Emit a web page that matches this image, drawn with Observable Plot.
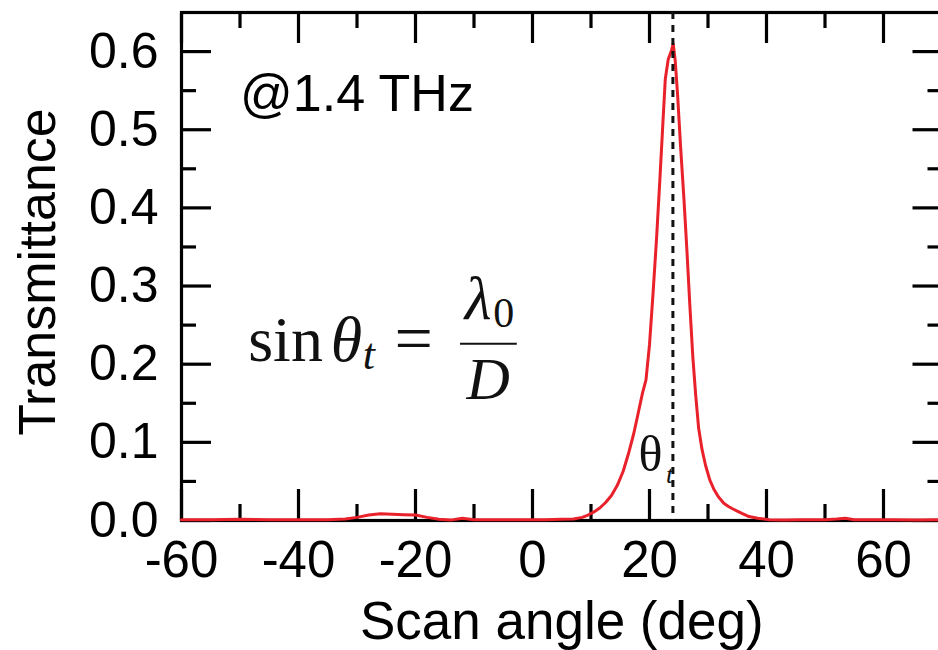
<!DOCTYPE html>
<html><head><meta charset="utf-8">
<script src="https://cdn.jsdelivr.net/npm/d3@7"></script>
<script src="https://cdn.jsdelivr.net/npm/@observablehq/plot@0.6"></script>
<style>html,body{margin:0;padding:0;background:#fff;overflow:hidden}</style>
</head><body><div id="chart"></div>
<script>
// ---- data ----
const angle = [-60,-55,-50,-45,-40,-35,-32,-30,-28,-26,-24,-22,-20,-18,-16,-14,-12,-10,-6,-2,2,5,7,8.5,9.5,10.5,11.5,12.5,13.5,14.5,15.5,16.5,17.3,18,18.8,19.4,20,20.6,21.2,21.8,22.3,22.7,23.2,23.7,24.05,24.4,24.8,25.3,25.9,26.4,26.9,27.4,27.9,28.4,29,29.6,30.3,31,31.8,32.7,33.5,34.2,35,35.8,37,38.5,40.5,43,46,50,52,53.5,55,58,62,66,70];
const transmittance = [0.001,0.001,0.0015,0.001,0.001,0.001,0.002,0.004,0.007,0.0085,0.008,0.0075,0.007,0.004,0.0015,0.0005,0.003,0.001,0.001,0.001,0.001,0.0015,0.002,0.004,0.007,0.011,0.016,0.023,0.032,0.045,0.063,0.088,0.111,0.135,0.163,0.18,0.225,0.29,0.36,0.44,0.51,0.565,0.59,0.6,0.61,0.588,0.545,0.48,0.41,0.345,0.275,0.21,0.16,0.118,0.09,0.07,0.052,0.04,0.03,0.022,0.018,0.015,0.012,0.009,0.005,0.003,0.001,0.0005,0.001,0.001,0.002,0.003,0.001,0.001,0.001,0.0005,0.001];
const xMajorTicks = [-60,-40,-20,0,20,40,60];
const xMinorTicks = [-50,-30,-10,10,30,50];
const yMajorTicks = [0,0.1,0.2,0.3,0.4,0.5,0.6];
const yMinorTicks = [0.05,0.15,0.25,0.35,0.45,0.55];
const thetaT = 24;
const xLabel = "Scan angle (deg)";
const yLabel = "Transmittance";
const freqLabel = "@1.4 THz";
// annotation anchors in data units (angle, transmittance)
const freqPos = [-50, 0.545];
const yLabelPos = [-84.5, 0.318];

const data = angle.map((a, i) => ({angle: a, T: transmittance[i]}));

const serif = "'Liberation Serif', 'Times New Roman', serif";
const sans = "'Liberation Sans', Arial, Helvetica, sans-serif";

// formula pieces: sin θ_t = λ_0 / D
const formula = [
  {text: "sin", x: -48.6, y: 0.2046, size: 64, style: "normal"},
  {text: "θ", x: -34.5, y: 0.2046, size: 64, style: "italic"},
  {text: "t", x: -29.0, y: 0.1944, size: 44, style: "italic"},
  {text: "=", x: -23.6, y: 0.2046, size: 68, style: "normal"},
  {text: "λ", x: -11.6, y: 0.2583, size: 62, style: "italic"},
  {text: "0", x: -6.7, y: 0.248, size: 42, style: "normal"},
  {text: "D", x: -11.3, y: 0.156, size: 60, style: "italic"}
];
const fracBar = [{x1: -12.3, x2: -2.6, y: 0.2263}];
const thetaLabel = [
  {text: "θ", x: 18.1, y: 0.0639, size: 50, style: "normal"},
  {text: "t", x: 22.8, y: 0.0486, size: 26, style: "italic"}
];

const textPieces = (arr) => arr.map(d => Plot.text([d], {
  x: "x", y: "y", text: "text", textAnchor: "start", lineAnchor: "bottom",
  fontSize: d.size, fontStyle: d.style, fontFamily: serif, fill: "#111"
}));

const chart = Plot.plot({
  width: 938, height: 650,
  marginLeft: 181, marginRight: -3.5, marginTop: 12, marginBottom: 130,
  style: {fontFamily: sans, background: "white", color: "black"},
  x: {domain: [-60, 70]},
  y: {domain: [0, 0.65]},
  marks: [
    Plot.frame({stroke: "black", strokeWidth: 3.2}),
    // inward ticks, all four sides
    Plot.axisX(xMajorTicks, {anchor: "bottom", tickSize: -31, strokeWidth: 3.2, fill: "none", label: null}),
    Plot.axisX(xMinorTicks, {anchor: "bottom", tickSize: -16, strokeWidth: 3.2, fill: "none", label: null}),
    Plot.axisX(xMajorTicks, {anchor: "top", tickSize: -30, strokeWidth: 3.2, fill: "none", label: null}),
    Plot.axisX(xMinorTicks, {anchor: "top", tickSize: -15, strokeWidth: 3.2, fill: "none", label: null}),
    Plot.axisY(yMajorTicks, {anchor: "left", tickSize: -30, strokeWidth: 3.2, fill: "none", label: null}),
    Plot.axisY(yMinorTicks, {anchor: "left", tickSize: -15, strokeWidth: 3.2, fill: "none", label: null}),
    Plot.axisY(yMajorTicks, {anchor: "right", tickSize: -30, strokeWidth: 3.2, fill: "none", label: null}),
    Plot.axisY(yMinorTicks, {anchor: "right", tickSize: -15, strokeWidth: 3.2, fill: "none", label: null}),
    // tick labels
    Plot.axisX(xMajorTicks, {anchor: "bottom", tickSize: 0, tickPadding: 20, fontSize: 51, tickFormat: d => String(d), label: null, fill: "black"}),
    Plot.axisY(yMajorTicks, {anchor: "left", tickSize: 0, tickPadding: 23, fontSize: 50, tickFormat: d => d.toFixed(1), label: null, fill: "black"}),
    // axis titles
    Plot.text([xLabel], {frameAnchor: "bottom", dy: 102, textAnchor: "middle", lineAnchor: "middle", fontSize: 53, fill: "black", text: d => d}),
    Plot.text([yLabel], {x: () => yLabelPos[0], y: () => yLabelPos[1], rotate: -90, textAnchor: "middle", lineAnchor: "middle", fontSize: 52, fill: "black", text: d => d}),
    // curve
    Plot.line(data, {x: "angle", y: "T", stroke: "#e8212a", strokeWidth: 3}),
    // theta_t dashed line
    Plot.ruleX([thetaT], {stroke: "#111", strokeWidth: 3, strokeDasharray: "7,6"}),
    // annotations
    Plot.text([freqLabel], {x: () => freqPos[0], y: () => freqPos[1], text: d => d, textAnchor: "start", lineAnchor: "middle", fontSize: 52, fill: "black"}),
    ...textPieces(formula),
    Plot.ruleY(fracBar, {x1: "x1", x2: "x2", y: "y", stroke: "#111", strokeWidth: 2}),
    ...textPieces(thetaLabel)
  ]
});
document.getElementById("chart").append(chart);
</script>
</body></html>
